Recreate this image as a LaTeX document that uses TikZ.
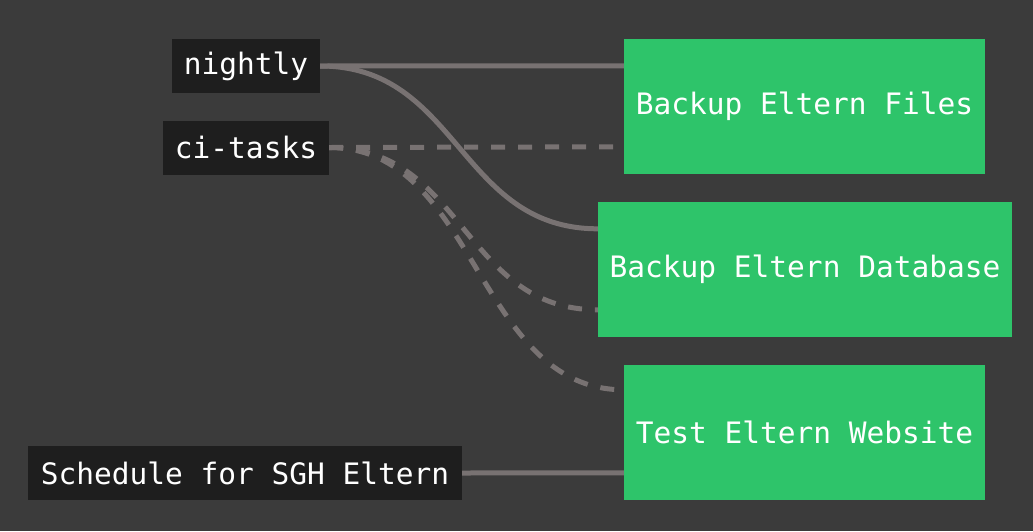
\documentclass[tikz,border=0pt]{standalone}
\usepackage{fontspec}
\setmonofont{DejaVu Sans Mono}
\usetikzlibrary{calc}
\definecolor{bg}{HTML}{3B3B3B}
\definecolor{lblk}{HTML}{1E1E1E}
\definecolor{tgreen}{HTML}{2EC46A}
\definecolor{linkc}{HTML}{787272}
\tikzset{
  trigger/.style={fill=lblk, text=white, font=\ttfamily\fontsize{29.5}{29.5}\selectfont, minimum height=54pt, inner sep=0pt, anchor=center},
  job/.style={fill=tgreen, text=white, font=\ttfamily\fontsize{29.5}{29.5}\selectfont, minimum height=135pt, inner sep=0pt, anchor=center},
  link/.style={draw=linkc, line width=5pt},
  dlink/.style={link, dash pattern=on 14pt off 13pt}
}
\begin{document}
\begin{tikzpicture}[x=1pt,y=-1pt]
\fill[bg] (0,0) rectangle (1033,531);
\useasboundingbox (0,0) rectangle (1033,531);
\node[trigger, minimum width=148pt] (nightly) at (246,66) {nightly};
\node[trigger, minimum width=166pt] (ci) at (246,147.5) {ci-tasks};
\node[trigger, minimum width=434pt] (sched) at (245,473) {Schedule for SGH Eltern};
\node[job, minimum width=361pt] (files) at (804.5,106.5) {Backup Eltern Files};
\node[job, minimum width=414pt] (db) at (805,269.5) {Backup Eltern Database};
\node[job, minimum width=361pt] (test) at (804.5,432.5) {Test Eltern Website};
\coordinate (filesA) at ($(files.north west)+(0,27)$);
\coordinate (filesB) at ($(files.north west)+(0,108)$);
\coordinate (dbA) at ($(db.north west)+(0,27)$);
\coordinate (dbB) at ($(db.north west)+(0,108)$);
\coordinate (testA) at ($(test.north west)+(0,25)$);
\coordinate (testB) at ($(test.north west)+(0,108)$);
\draw[link] (nightly.east) -- (filesA);
\draw[link] (nightly.east) .. controls +(139,0) and +(-139,0) .. (dbA);
\draw[dlink] (ci.east) -- (filesB);
\draw[dlink] (ci.east) .. controls +(134.5,0) and +(-134.5,0) .. (dbB);
\draw[dlink] (ci.east) .. controls +(147.5,0) and +(-147.5,0) .. (testA);
\draw[link] (sched.east) -- (testB);
\end{tikzpicture}
\end{document}
